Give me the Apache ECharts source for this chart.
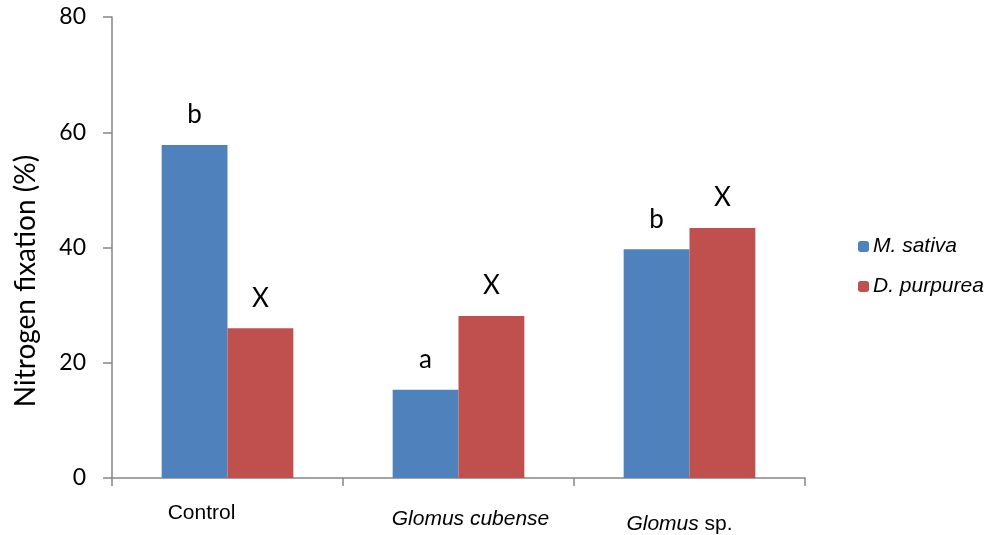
<!DOCTYPE html>
<html><head><meta charset="utf-8">
<script src="https://cdn.jsdelivr.net/npm/echarts@6/dist/echarts.min.js"></script>
<style>html,body{margin:0;padding:0;background:#fff}#c{width:990px;height:535px}</style>
</head><body><div id="c"></div>
<script>
const categories = ['Control', 'Glomus cubense', 'Glomus sp.'];
const seriesNames = ['M. sativa', 'D. purpurea'];
const mSativa = [57.8, 15.3, 39.7];
const dPurpurea = [26.0, 28.1, 43.4];
const mLetters = ['b', 'a', 'b'];
const dLetters = ['X', 'X', 'X'];
const yTicks = [0, 20, 40, 60, 80];
const yTitle = 'Nitrogen fixation (%)';

const chart = echarts.init(document.getElementById('c'));
const labelFormat = function (v) {
  if (v === 'Control') return '{n|Control}';
  if (v === 'Glomus cubense') return '{gc|Glomus cubense}';
  return '{gi|Glomus}{gs| sp.}';
};
const lf = 'Liberation Sans';
chart.setOption({
  animation: false,
  grid: { left: 112, right: 185, top: 17, bottom: 54, containLabel: false },
  legend: {
    orient: 'vertical', left: 858, top: 236, padding: 0, itemWidth: 11, itemHeight: 11, itemGap: 19,
    data: seriesNames,
    textStyle: { fontFamily: lf, fontSize: 21, fontStyle: 'italic', color: '#000', padding: [0, 0, 0, -1] }
  },
  graphic: [{
    type: 'text', x: 26, y: 281, rotation: Math.PI / 2,
    style: { text: yTitle, font: '28px Lato', fill: '#000', textAlign: 'center', textVerticalAlign: 'middle' }
  }],
  xAxis: {
    type: 'category', data: categories,
    axisLine: { lineStyle: { color: '#868686', width: 1.5 } },
    axisTick: { show: true, length: 8, lineStyle: { color: '#868686', width: 1.5 } },
    axisLabel: {
      margin: 25, formatter: labelFormat, color: '#000',
      rich: {
        n: { fontFamily: lf, fontSize: 21, color: '#000', padding: [0, 52, 0, 0] },
        gc: { fontFamily: lf, fontSize: 21, fontStyle: 'italic', color: '#000', padding: [6, 0, 0, 24] },
        gi: { fontFamily: lf, fontSize: 21, fontStyle: 'italic', color: '#000', padding: [11, 0, 0, 0] },
        gs: { fontFamily: lf, fontSize: 21, color: '#000', padding: [11, 20, 0, 0] }
      }
    }
  },
  yAxis: {
    type: 'value', min: yTicks[0], max: yTicks[yTicks.length - 1], interval: 20,
    axisLine: { show: true, lineStyle: { color: '#868686', width: 1.5 } },
    axisTick: { show: true, length: 9, lineStyle: { color: '#868686', width: 1.5 } },
    splitLine: { show: false },
    axisLabel: { fontFamily: 'Lato', fontSize: 23, color: '#000', margin: 26 }
  },
  series: [
    {
      name: seriesNames[0], type: 'bar', data: mSativa, barGap: '0%', barCategoryGap: '43%',
      itemStyle: { color: '#4F81BD' },
      label: { show: true, position: 'top', distance: 17, fontFamily: 'Lato', fontSize: 26, color: '#000',
        formatter: p => mLetters[p.dataIndex] }
    },
    {
      name: seriesNames[1], type: 'bar', data: dPurpurea,
      itemStyle: { color: '#C0504D' },
      label: { show: true, position: 'top', distance: 17, fontFamily: 'Lato', fontSize: 26, color: '#000',
        formatter: p => dLetters[p.dataIndex] }
    }
  ]
});
</script></body></html>
